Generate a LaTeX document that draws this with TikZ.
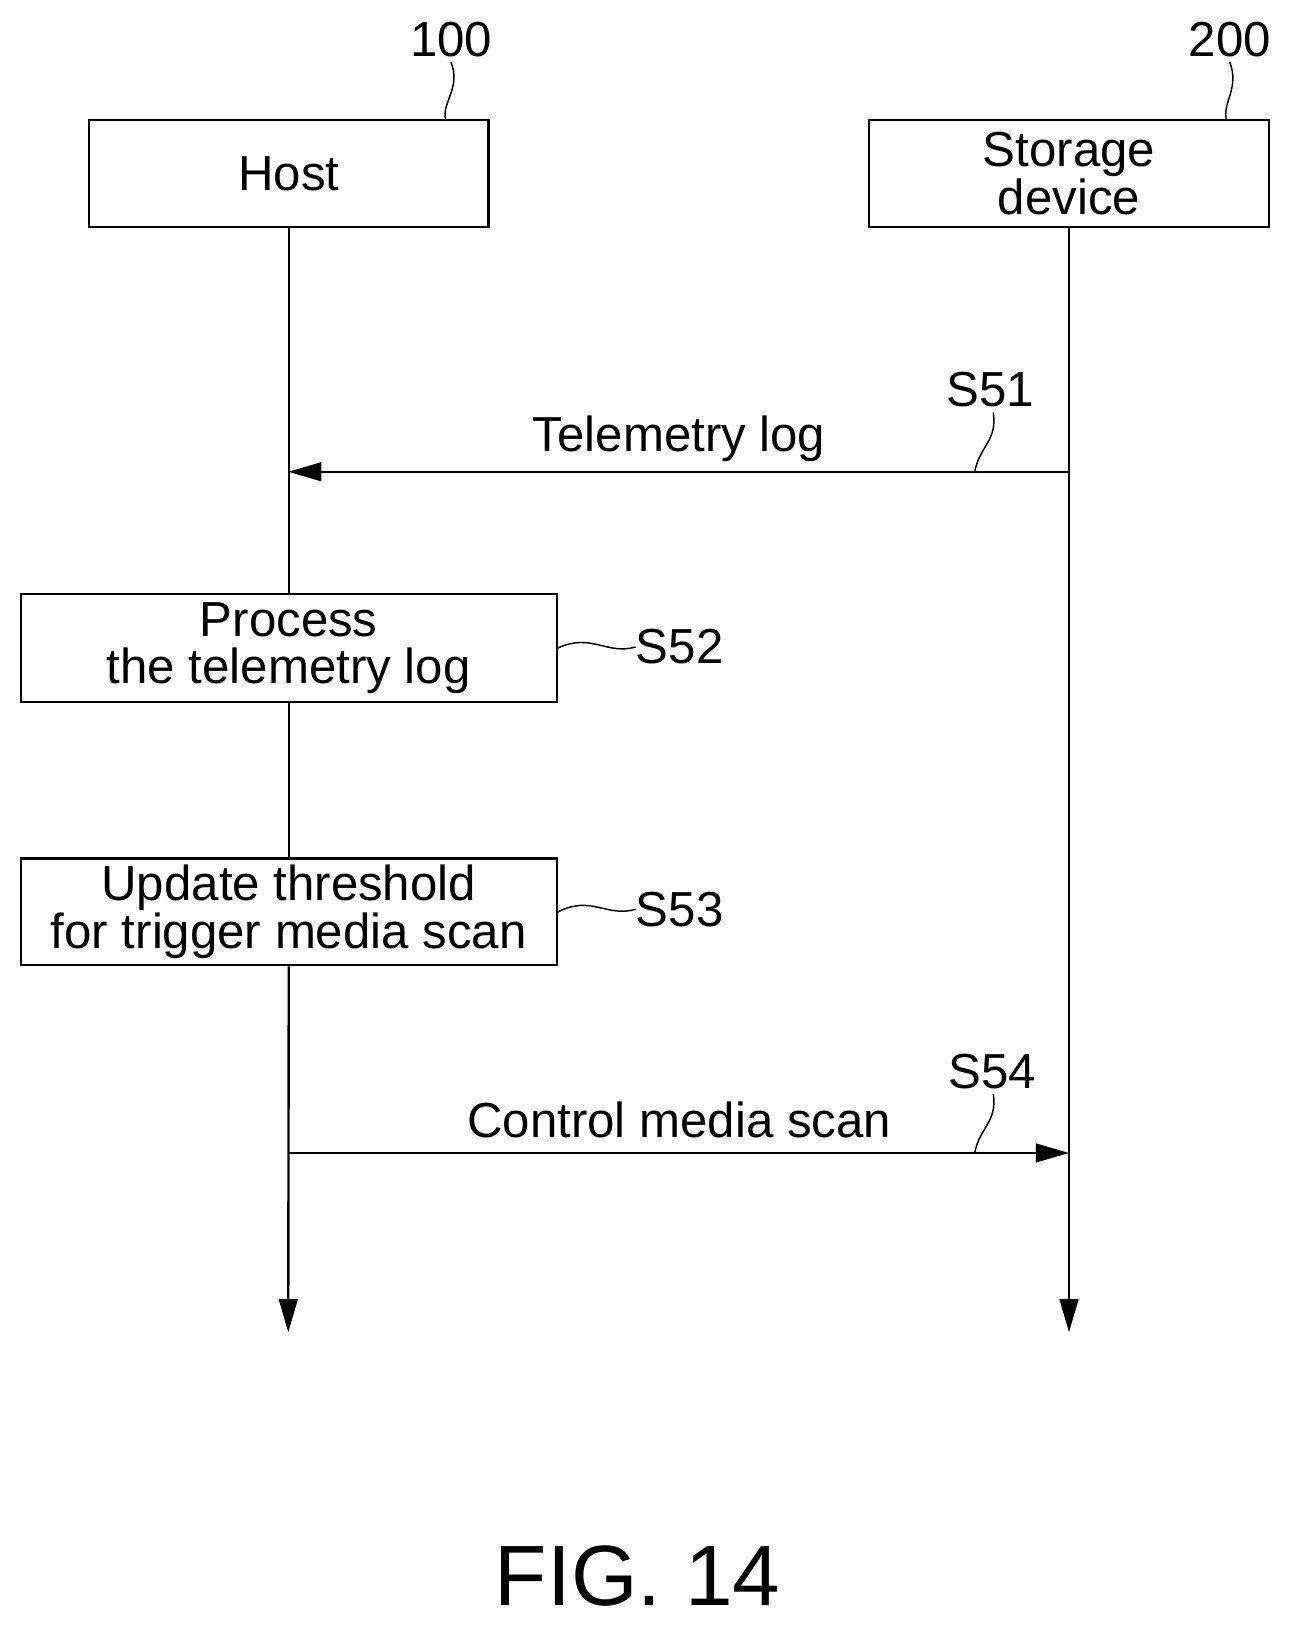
\documentclass[tikz,border=0pt]{standalone}
\usepackage{fontspec}
\setmainfont{Liberation Sans}
\usetikzlibrary{arrows.meta}
\begin{document}
\begin{tikzpicture}[x=0.02cm,y=-0.02cm,
 box/.style={draw,line width=1.3pt,inner sep=0pt,align=center,font=\fontsize{27}{26}\selectfont},
 lbl/.style={font=\fontsize{27}{30}\selectfont,inner sep=0pt},
 life/.style={line width=1.3pt,-{Triangle[length=0.64cm,width=0.36cm]}},
 sq/.style={line width=0.8pt}]
\useasboundingbox (0,0) rectangle (1250,1574);
\node[box,minimum width=7.7cm,minimum height=2.06cm] (host) at (278.5,167.5) {Host};
\node[box,minimum width=7.72cm,minimum height=2.06cm] (stor) at (1031,167.5) {Storage\\device};
\node[lbl] (l100) at (435,38) {100};
\node[lbl] (l200) at (1186,38) {200};
\draw[sq] (430,116) .. controls (425,100) and (445,85) .. (435,60);
\draw[sq] (1183,116) .. controls (1178,100) and (1196,85) .. (1186,60);
\coordinate (hend) at (278,1285);
\coordinate (send) at (1031,1285);
\node[box,minimum width=10.34cm,minimum height=2.08cm] (p1) at (278.5,625) {Process\\the telemetry log};
\node[box,minimum width=10.34cm,minimum height=2.06cm] (p2) at (278.5,879.5) {Update threshold\\for trigger media scan};
\draw[line width=1.3pt] (host.south) -- (p1.north);
\draw[line width=1.3pt] (p1.south) -- (p2.north);
\draw[life] (p2.south) -- (hend);
\draw[life] (stor.south) -- (send);
\coordinate (h1) at (278,455); \coordinate (s1) at (1031,455);
\coordinate (h2) at (278,1112); \coordinate (s2) at (1031,1112);
\draw[life] (s1) -- (h1);
\draw[life] (h2) -- (s2);
\node[lbl] (t1) at (655,423) {Telemetry log};
\node[lbl] (t2) at (655,1080) {Control media scan};
\node[lbl] (s51) at (955,376) {S51};
\node[lbl] (s54) at (957,1033) {S54};
\node[lbl,anchor=west] (s52) at (613,624) {S52};
\node[lbl,anchor=west] (s53) at (613,877) {S53};
\draw[sq] (940,455) .. controls (945,430) and (962,425) .. (958,398);
\draw[sq] (940,1112) .. controls (945,1087) and (962,1082) .. (958,1055);
\draw[sq] (p1.east) .. controls (570,610) and (585,632) .. (s52.west);
\draw[sq] (p2.east) .. controls (570,863) and (585,885) .. (s53.west);
\node[font=\fontsize{47}{50}\selectfont,inner sep=0pt] (fig) at (615,1520) {FIG. 14};
\end{tikzpicture}
\end{document}
